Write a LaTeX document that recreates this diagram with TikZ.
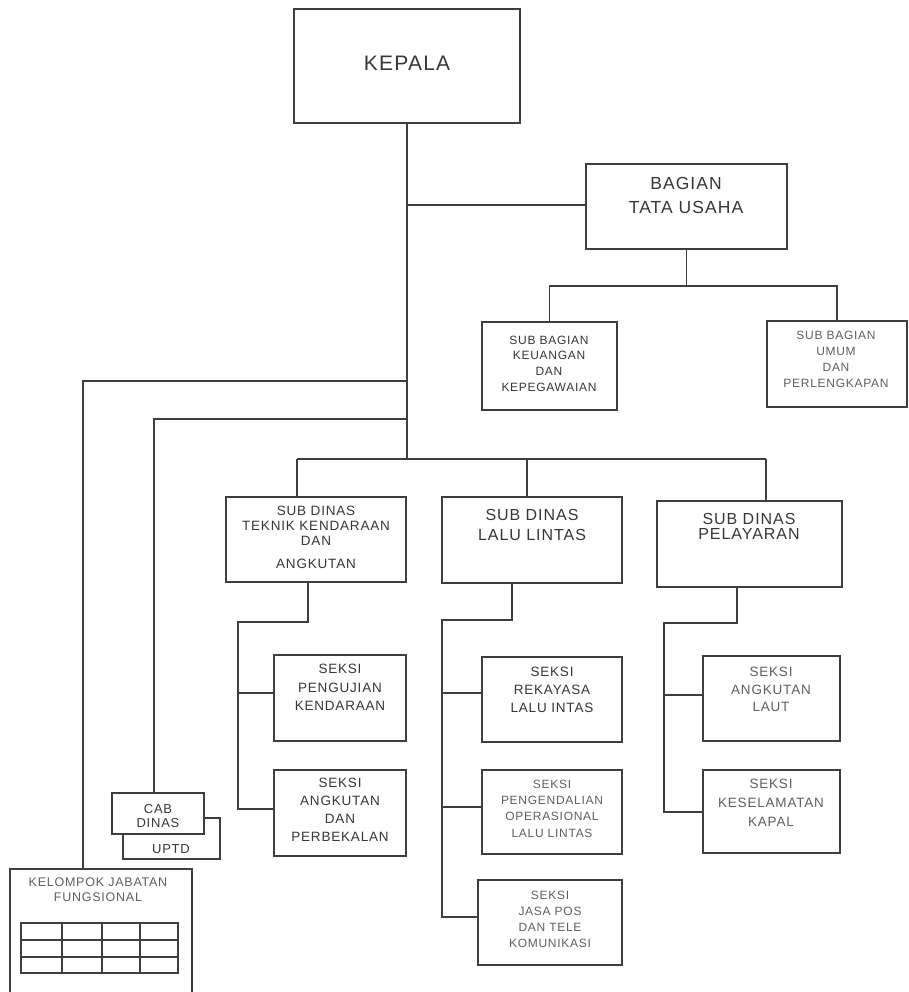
\documentclass[tikz,border=0pt]{standalone}
\usepackage{fontspec}
\setmainfont{Liberation Sans}[LetterSpace=6.0]
\usetikzlibrary{fit}

\definecolor{ink}{RGB}{62,62,62}
\definecolor{txt}{RGB}{55,55,55}
\definecolor{faint}{RGB}{95,95,95}

\tikzset{
  box/.style={draw=ink, line width=1.4pt, fill=white, inner sep=0pt, rectangle},
  wire/.style={draw=ink, line width=1.4pt},
  lbl/.style n args={2}{text=txt, align=center, inner sep=0pt,
    font=\fontsize{#1}{#2}\selectfont},
  flbl/.style n args={2}{lbl={#1}{#2}, text=faint},
}

\begin{document}
\begin{tikzpicture}[x=1pt, y=-1pt]
  \useasboundingbox (0,0) rectangle (908,992);
  \fill[white] (0,0) rectangle (908,992);
  \clip (0,0) rectangle (908,992);

  % ---- head and administration ----
  \node[box, fit={(294,9) (520,123)}] (kepala) {};
  \node[lbl={21}{24}] (kepala-t) at (407,63) {KEPALA};

  \node[box, fit={(586,164) (787,249)}] (bagian) {};
  \node[lbl={17.5}{24}] (bagian-t) at (686,195) {BAGIAN\\TATA USAHA};

  \node[box, fit={(482,322) (617,410)}] (keu) {};
  \node[lbl={12}{15.7}] (keu-t) at (549,363.5) {SUB BAGIAN\\KEUANGAN\\DAN\\KEPEGAWAIAN};

  \node[box, fit={(767,321) (907,407)}] (umum) {};
  \node[flbl={12}{16}] (umum-t) at (836,359) {SUB BAGIAN\\UMUM\\DAN\\PERLENGKAPAN};

  % ---- sub dinas ----
  \node[box, fit={(226,497) (406,582)}] (teknik) {};
  \node[lbl={13.5}{15}] (teknik-t) at (316,537.5) {SUB DINAS\\TEKNIK KENDARAAN\\DAN\\[8pt]ANGKUTAN};

  \node[box, fit={(442,497) (622,583)}] (lalu) {};
  \node[lbl={16}{20}] (lalu-t) at (532,525) {SUB DINAS\\LALU LINTAS};

  \node[box, fit={(657,501) (842,587)}] (pelayaran) {};
  \node[lbl={16}{15}] (pelayaran-t) at (749,526) {SUB DINAS\\PELAYARAN};

  % ---- seksi ----
  \node[box, fit={(274,655) (406,741)}] (uji) {};
  \node[lbl={13.5}{18.5}] (uji-t) at (340,687.5) {SEKSI\\PENGUJIAN\\KENDARAAN};

  \node[box, fit={(274,770) (406,856)}] (angk) {};
  \node[lbl={13.5}{18}] (angk-t) at (340,810) {SEKSI\\ANGKUTAN\\DAN\\PERBEKALAN};

  \node[box, fit={(482,657) (622,742)}] (rek) {};
  \node[lbl={13.5}{18}] (rek-t) at (552,690) {SEKSI\\REKAYASA\\LALU INTAS};

  \node[box, fit={(482,770) (622,854)}] (kend) {};
  \node[flbl={12}{16.3}] (kend-t) at (552,808.5) {SEKSI\\PENGENDALIAN\\OPERASIONAL\\LALU LINTAS};

  \node[box, fit={(478,880) (622,965)}] (jasa) {};
  \node[flbl={12}{16}] (jasa-t) at (550,919) {SEKSI\\JASA POS\\DAN TELE\\KOMUNIKASI};

  \node[box, fit={(703,656) (840,741)}] (laut) {};
  \node[flbl={13.5}{17.5}] (laut-t) at (771,689.5) {SEKSI\\ANGKUTAN\\LAUT};

  \node[box, fit={(703,770) (840,853)}] (kesel) {};
  \node[flbl={13.5}{19}] (kesel-t) at (771,803) {SEKSI\\KESELAMATAN\\KAPAL};

  % ---- branch offices and functional group ----
  \node[box, fit={(123,818) (220,859)}] (uptd) {};
  \node[lbl={13}{14}] (uptd-t) at (171,849) {UPTD};
  \node[box, fit={(112,793) (204,834)}] (cab) {};
  \node[lbl={13}{14}] (cab-t) at (158,816) {CAB\\DINAS};

  \node[box, fit={(10,869) (192,1010)}] (kelompok) {};
  \node[flbl={12.5}{15}] (kelompok-t) at (98,889.5) {KELOMPOK JABATAN\\FUNGSIONAL};
  \node[box, fit={(21,923) (178,973)}] (tabel) {};
  \draw[wire, line width=1.1pt]
    (62,923) -- (62,973)  (102,923) -- (102,973)  (140,923) -- (140,973)
    (21,940) -- (178,940) (21,957) -- (178,957);

  % ---- junction points ----
  \coordinate (sdbus) at (407,459);
  \coordinate (tuin) at (407,205);
  \coordinate (tubus) at (686,286);
  \coordinate (kj) at (83,381);
  \coordinate (cj) at (154,419);
  \coordinate (tkin) at (297,459);
  \coordinate (luin) at (527,459);
  \coordinate (plin) at (766,459);

  \coordinate (tkel) at (308,622);
  \coordinate (tksp) at (238,622);
  \coordinate (tkb1) at (238,693);
  \coordinate (tkb2) at (238,809);

  \coordinate (luel) at (512,620);
  \coordinate (lusp) at (442,620);
  \coordinate (lub1) at (442,693);
  \coordinate (lub2) at (442,807);
  \coordinate (lub3) at (442,917);

  \coordinate (plel) at (737,623);
  \coordinate (plsp) at (664,623);
  \coordinate (plb1) at (664,695);
  \coordinate (plb2) at (664,812);

  % ---- connectors ----
  \draw[wire] (kepala.south) -- (sdbus);
  \draw[wire] (tuin) -- (tuin -| bagian.west);
  \draw[wire] (bagian.south) -- (bagian.south |- tubus);
  \draw[wire] (keu.north) -- (keu.north |- tubus) -- (umum.north |- tubus) -- (umum.north);

  \draw[wire] (kepala.south |- kj) -- (kj) -- (kj |- kelompok.north);
  \draw[wire] (kepala.south |- cj) -- (cj) -- (cj |- cab.north);

  \draw[wire] (tkin) -- (plin);
  \draw[wire] (tkin) -- (tkin |- teknik.north);
  \draw[wire] (luin) -- (luin |- lalu.north);
  \draw[wire] (plin) -- (plin |- pelayaran.north);

  \draw[wire] (tkel |- teknik.south) -- (tkel) -- (tksp) -- (tkb2) -- (tkb2 -| angk.west);
  \draw[wire] (tkb1) -- (tkb1 -| uji.west);

  \draw[wire] (luel |- lalu.south) -- (luel) -- (lusp) -- (lub3) -- (lub3 -| jasa.west);
  \draw[wire] (lub1) -- (lub1 -| rek.west);
  \draw[wire] (lub2) -- (lub2 -| kend.west);

  \draw[wire] (plel |- pelayaran.south) -- (plel) -- (plsp) -- (plb2) -- (plb2 -| kesel.west);
  \draw[wire] (plb1) -- (plb1 -| laut.west);
\end{tikzpicture}
\end{document}
